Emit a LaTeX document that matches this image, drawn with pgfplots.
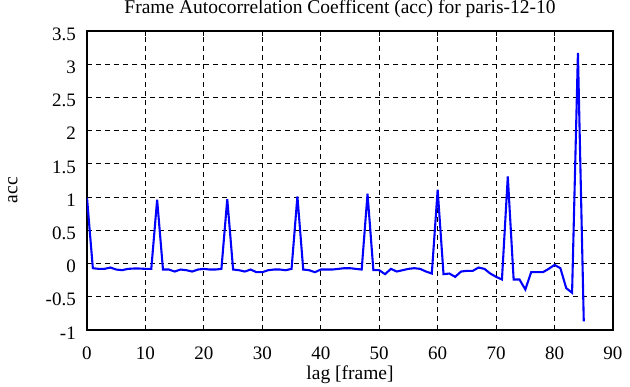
\documentclass[border=0pt]{standalone}
\usepackage{fontspec}
\setmainfont{Liberation Serif}
\usepackage{pgfplots}
\pgfplotsset{compat=1.18}
\begin{document}
\begin{tikzpicture}
\begin{axis}[
  at={(0,0)}, anchor=south west,
  scale only axis, width=526bp, height=299bp,
  xmin=0, xmax=90, ymin=-1, ymax=3.5,
  xtick={0,10,...,90}, ytick={-1,-0.5,0,0.5,1,1.5,2,2.5,3,3.5},
  yticklabel style={/pgf/number format/fixed, anchor=east, inner sep=0pt, xshift=-11bp, yshift=-3bp},
  xticklabel style={anchor=base, inner sep=0pt, yshift=-29bp},
  /pgf/number format/assume math mode=true,
  tick align=inside, tick pos=both,
  major tick length=5bp,
  tick style={black, line width=1.2pt},
  axis line style={black, line width=1.8pt},
  grid=major,
  major grid style={black, dash pattern=on 5bp off 4bp, line width=0.8pt},
  font=\fontsize{19.5bp}{21bp}\selectfont,
  ticklabel style={font=\fontsize{19bp}{21bp}\selectfont},
  title={Frame Autocorrelation Coefficent (acc) for paris-12-10},
  title style={at={(axis description cs:0.481,1.057)}, anchor=base, inner sep=0pt, yshift=-6pt},
  xlabel={lag [frame]},
  xlabel style={at={(axis description cs:0.5,-0.167)}, anchor=base, inner sep=0pt},
  ylabel={acc},
  ylabel style={at={(axis description cs:-0.141,0.468)}, anchor=center, inner sep=0pt},
]
\addplot[color={rgb,255:red,0;green,0;blue,255}, line width=2.1pt] coordinates {
(0,0.99) (1,-0.07) (2,-0.08) (3,-0.08) (4,-0.06) (5,-0.09) (6,-0.10) (7,-0.08) (8,-0.075) (9,-0.075)
(10,-0.08) (11,-0.08) (12,0.96) (13,-0.09) (14,-0.09) (15,-0.12) (16,-0.09) (17,-0.10) (18,-0.12) (19,-0.09)
(20,-0.08) (21,-0.09) (22,-0.09) (23,-0.08) (24,0.97) (25,-0.09) (26,-0.10) (27,-0.12) (28,-0.09) (29,-0.13)
(30,-0.13) (31,-0.10) (32,-0.09) (33,-0.09) (34,-0.10) (35,-0.08) (36,1.01) (37,-0.09) (38,-0.10) (39,-0.13)
(40,-0.09) (41,-0.09) (42,-0.09) (43,-0.08) (44,-0.07) (45,-0.07) (46,-0.08) (47,-0.09) (48,1.05) (49,-0.10)
(50,-0.10) (51,-0.16) (52,-0.08) (53,-0.12) (54,-0.10) (55,-0.08) (56,-0.07) (57,-0.08) (58,-0.12) (59,-0.15)
(60,1.11) (61,-0.16) (62,-0.15) (63,-0.20) (64,-0.12) (65,-0.11) (66,-0.11) (67,-0.06) (68,-0.08) (69,-0.15)
(70,-0.20) (71,-0.24) (72,1.31) (73,-0.24) (74,-0.24) (75,-0.39) (76,-0.13) (77,-0.13) (78,-0.13) (79,-0.08)
(80,-0.02) (81,-0.07) (82,-0.37) (83,-0.44) (84,3.17) (85,-0.87)
};
\end{axis}
\pgfresetboundingbox
\path[use as bounding box] (-87bp,-57bp) rectangle (543bp,330bp);
\end{tikzpicture}
\end{document}
